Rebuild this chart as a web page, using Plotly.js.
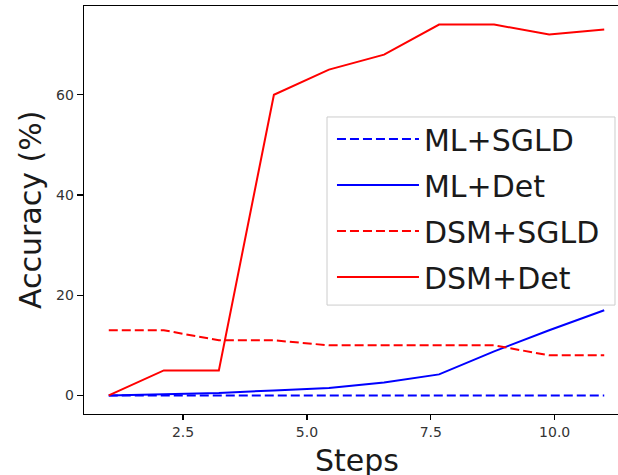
<!DOCTYPE html>
<html>
<head>
<meta charset="utf-8">
<script src="https://cdn.plot.ly/plotly-3.0.1.min.js"></script>
<style>
html, body { margin: 0; padding: 0; overflow: hidden; background: #fff; }
#chart { width: 640px; height: 475px; }
</style>
</head>
<body>
<div id="chart"></div>
<script>
// Steps (10 evenly spaced values from 1 to 11)
const steps = [1, 2.111, 3.222, 4.333, 5.444, 6.556, 7.667, 8.778, 9.889, 11];
const mlSgld  = [0, 0, 0, 0, 0, 0, 0, 0, 0, 0];
const mlDet   = [0, 0.3, 0.5, 1.0, 1.5, 2.6, 4.2, 8.8, 13.0, 17.0];
const dsmSgld = [13, 13, 11, 11, 10, 10, 10, 10, 8, 8];
const dsmDet  = [0, 5, 5, 60, 65, 68, 74, 74, 72, 73];
const seriesNames = ["ML+SGLD", "ML+Det", "DSM+SGLD", "DSM+Det"];
const xTicks = [2.5, 5.0, 7.5, 10.0];
const yTicks = [0, 20, 40, 60];

const BLUE = "#0000ff", RED = "#ff0000";
const dashed = "9px,4px";

const traces = [
  {x: steps, y: mlSgld, name: seriesNames[0], legendgroup: "a", mode: "lines", line: {color: BLUE, width: 2, dash: dashed}},
  {x: steps, y: mlDet, name: seriesNames[1], legendgroup: "b", mode: "lines", line: {color: BLUE, width: 2}},
  {x: steps, y: dsmSgld, name: seriesNames[2], legendgroup: "c", mode: "lines", line: {color: RED, width: 2, dash: dashed}},
  {x: steps, y: dsmDet, name: seriesNames[3], legendgroup: "d", mode: "lines", line: {color: RED, width: 2}}
];

const font = "DejaVu Sans, sans-serif";
const layout = {
  width: 640, height: 475,
  margin: {l: 84, r: 11, t: 6, b: 61},
  paper_bgcolor: "#ffffff", plot_bgcolor: "#ffffff",
  font: {family: font, color: "#262626"},
  showlegend: true,
  legend: {
    x: 0.455, y: 0.738, xanchor: "left", yanchor: "top",
    bgcolor: "rgba(0,0,0,0)", bordercolor: "rgba(0,0,0,0)", borderwidth: 0,
    font: {family: font, size: 30, color: "#1a1a1a"},
    itemwidth: 82, tracegroupgap: 4
  },
  shapes: [
    {type: "rect", xref: "paper", yref: "paper", x0: 0.4459, x1: 0.9743, y0: 0.267, y1: 0.728,
     line: {color: "#cccccc", width: 1}, fillcolor: "rgba(255,255,255,0.85)", layer: "above"}
  ],
  xaxis: {
    range: [0.5, 11.5],
    tickvals: xTicks, ticktext: xTicks.map(v => v.toFixed(1)),
    showgrid: false, zeroline: false,
    showline: true, linecolor: "#000", linewidth: 1.3, mirror: true,
    ticks: "outside", ticklen: 5, tickwidth: 1.2, tickcolor: "#000",
    tickfont: {family: font, size: 14, color: "#333"}
  },
  yaxis: {
    range: [-3.7, 77.7],
    tickvals: yTicks,
    showgrid: false, zeroline: false,
    showline: true, linecolor: "#000", linewidth: 1.3,
    ticks: "outside", ticklen: 6, tickwidth: 1.2, tickcolor: "#000",
    tickfont: {family: font, size: 14, color: "#333"}
  },
  annotations: [
    {text: "Steps", xref: "paper", yref: "paper", x: 0.5, y: 0, yshift: -46,
     xanchor: "center", yanchor: "middle", showarrow: false,
     font: {family: font, size: 30, color: "#1a1a1a"}},
    {text: "Accuracy (%)", xref: "paper", yref: "paper", x: 0, y: 0.5, xshift: -54,
     xanchor: "center", yanchor: "middle", textangle: -90, showarrow: false,
     font: {family: font, size: 30, color: "#1a1a1a"}}
  ]
};

Plotly.newPlot("chart", traces, layout, {displayModeBar: false, staticPlot: true});
</script>
</body>
</html>
